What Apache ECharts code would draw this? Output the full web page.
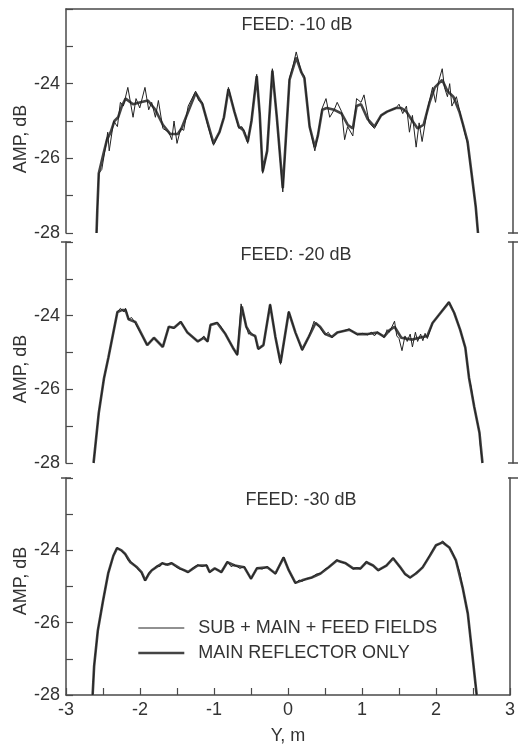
<!DOCTYPE html>
<html>
<head>
<meta charset="utf-8">
<script src="https://cdn.jsdelivr.net/npm/echarts@6/dist/echarts.min.js"></script>
<style>
  html, body { margin: 0; padding: 0; background: #fff; }
  #chart { width: 518px; height: 747px; }
</style>
</head>
<body>
<div id="chart"></div>
<script>
// Panel labels
const panelTitles = ['FEED: -10 dB', 'FEED: -20 dB', 'FEED: -30 dB'];
const legendNames = ['SUB + MAIN + FEED FIELDS', 'MAIN REFLECTOR ONLY'];

// [Y (m), amplitude (dB)]
const feed10Full = [
  [-2.59, -28], [-2.58, -27.4], [-2.56, -26.4], [-2.52, -26.3], [-2.47, -25.7], [-2.44, -25.3], [-2.42, -25.8],
  [-2.36, -25.0], [-2.31, -25.15], [-2.27, -24.5], [-2.23, -24.6], [-2.17, -24.1], [-2.1, -24.9], [-2.06, -24.4],
  [-2.01, -24.65], [-1.94, -24.1], [-1.89, -24.7], [-1.85, -24.5], [-1.8, -24.9], [-1.76, -24.45], [-1.7, -25.2],
  [-1.62, -25.3], [-1.58, -25.5], [-1.55, -25.0], [-1.51, -25.6], [-1.46, -25.2], [-1.42, -25.25], [-1.36, -24.6],
  [-1.26, -24.2], [-1.22, -24.45], [-1.17, -24.5], [-1.1, -25.1], [-1.02, -25.65], [-0.94, -25.3], [-0.88, -24.9],
  [-0.82, -24.1], [-0.74, -24.75], [-0.68, -25.2], [-0.64, -25.15], [-0.6, -25.3], [-0.56, -25.6], [-0.51, -24.95],
  [-0.44, -23.75], [-0.40, -24.8], [-0.36, -26.4], [-0.30, -25.8], [-0.23, -23.6], [-0.17, -24.9], [-0.09, -26.9],
  [0.0, -23.85], [0.05, -23.5], [0.09, -23.15], [0.16, -23.7], [0.2, -23.8], [0.27, -25.15], [0.34, -25.8],
  [0.38, -25.4], [0.44, -24.65], [0.49, -24.4], [0.54, -24.9], [0.6, -24.7], [0.64, -24.5], [0.7, -24.75],
  [0.74, -25.5], [0.78, -25.15], [0.85, -25.4], [0.9, -24.4], [0.96, -24.5], [1.0, -24.3], [1.07, -25.05],
  [1.14, -25.2], [1.23, -24.85], [1.31, -24.75], [1.43, -24.65], [1.47, -24.55], [1.52, -24.8], [1.57, -24.6],
  [1.61, -25.3], [1.65, -24.85], [1.70, -25.7], [1.74, -25.05], [1.78, -25.55], [1.85, -24.7], [1.92, -24.1],
  [1.96, -24.5], [2.0, -23.95], [2.05, -23.6], [2.08, -24.1], [2.12, -24.35], [2.15, -24.0], [2.18, -24.6],
  [2.24, -24.35], [2.31, -24.95], [2.35, -25.3], [2.39, -25.6], [2.45, -26.5], [2.5, -27.3], [2.53, -28]
];
const feed10Main = [
  [-2.59, -28], [-2.58, -27.4], [-2.56, -26.4], [-2.5, -25.9], [-2.45, -25.5], [-2.4, -25.3], [-2.35, -25.0],
  [-2.3, -24.9], [-2.25, -24.6], [-2.2, -24.4], [-2.1, -24.55], [-2.0, -24.5], [-1.9, -24.45], [-1.8, -24.7],
  [-1.7, -25.1], [-1.6, -25.35], [-1.5, -25.35], [-1.45, -25.2], [-1.35, -24.7], [-1.26, -24.25], [-1.17, -24.55],
  [-1.02, -25.6], [-0.94, -25.3], [-0.88, -24.9], [-0.82, -24.15], [-0.74, -24.75], [-0.68, -25.15], [-0.62, -25.25],
  [-0.56, -25.55], [-0.51, -25.0], [-0.44, -23.8], [-0.40, -24.8], [-0.36, -26.35], [-0.30, -25.8], [-0.23, -23.65],
  [-0.17, -24.9], [-0.09, -26.8], [0.0, -23.9], [0.09, -23.3], [0.16, -23.7], [0.2, -23.85], [0.27, -25.15],
  [0.34, -25.7], [0.38, -25.4], [0.44, -24.7], [0.5, -24.65], [0.6, -24.7], [0.7, -24.8], [0.78, -25.1],
  [0.85, -25.2], [0.9, -24.6], [0.96, -24.55], [1.05, -24.95], [1.14, -25.15], [1.23, -24.85], [1.31, -24.75],
  [1.43, -24.65], [1.5, -24.65], [1.57, -24.75], [1.65, -25.0], [1.72, -25.2], [1.8, -25.1], [1.88, -24.5],
  [1.95, -24.1], [2.05, -23.9], [2.12, -24.2], [2.2, -24.35], [2.28, -24.75], [2.33, -25.1], [2.39, -25.55],
  [2.45, -26.5], [2.5, -27.3], [2.53, -28]
];

const feed20Full = [
  [-2.63, -28], [-2.56, -26.64], [-2.49, -25.7], [-2.43, -25.13], [-2.31, -23.9], [-2.27, -23.8], [-2.22, -23.9],
  [-2.2, -23.8], [-2.16, -24.1], [-2.12, -24.05], [-2.07, -24.2], [-1.91, -24.8], [-1.82, -24.6], [-1.70, -24.85],
  [-1.62, -24.3], [-1.55, -24.35], [-1.46, -24.15], [-1.37, -24.46], [-1.23, -24.7], [-1.19, -24.65], [-1.15, -24.55],
  [-1.1, -24.72], [-1.06, -24.25], [-0.97, -24.18], [-0.92, -24.3], [-0.86, -24.5], [-0.76, -24.87], [-0.70, -25.08],
  [-0.65, -23.68], [-0.58, -24.3], [-0.55, -24.5], [-0.52, -24.45], [-0.46, -24.58], [-0.42, -24.92], [-0.35, -24.8],
  [-0.26, -23.68], [-0.19, -24.57], [-0.12, -25.32], [-0.01, -23.88], [0.01, -23.85], [0.08, -24.46], [0.17, -24.95],
  [0.26, -24.57], [0.33, -24.15], [0.37, -24.25], [0.41, -24.32], [0.45, -24.45], [0.48, -24.52], [0.52, -24.45],
  [0.57, -24.6], [0.64, -24.46], [0.72, -24.42], [0.80, -24.36], [0.86, -24.45], [0.91, -24.52], [0.98, -24.48],
  [1.05, -24.52], [1.1, -24.45], [1.14, -24.55], [1.18, -24.44], [1.23, -24.52], [1.27, -24.6], [1.31, -24.38],
  [1.34, -24.45], [1.41, -24.15], [1.44, -24.55], [1.47, -24.62], [1.51, -24.95], [1.55, -24.55], [1.58, -24.7],
  [1.62, -24.5], [1.65, -24.85], [1.69, -24.45], [1.72, -24.7], [1.76, -24.5], [1.79, -24.68], [1.82, -24.48],
  [1.85, -24.62], [1.92, -24.2], [2.01, -23.97], [2.14, -23.62], [2.21, -23.92], [2.29, -24.38], [2.36, -24.87],
  [2.41, -25.69], [2.44, -25.95], [2.45, -26.1], [2.48, -26.48], [2.55, -27.18], [2.56, -27.5], [2.59, -28]
];
const feed20Main = [
  [-2.63, -28], [-2.56, -26.64], [-2.49, -25.7], [-2.43, -25.13], [-2.31, -23.9], [-2.25, -23.85], [-2.2, -23.85],
  [-2.16, -24.1], [-2.07, -24.17], [-1.91, -24.8], [-1.82, -24.6], [-1.70, -24.85], [-1.62, -24.3], [-1.55, -24.33],
  [-1.46, -24.17], [-1.37, -24.46], [-1.23, -24.7], [-1.15, -24.6], [-1.1, -24.7], [-1.06, -24.25], [-0.97, -24.2],
  [-0.86, -24.5], [-0.76, -24.87], [-0.70, -25.06], [-0.64, -23.75], [-0.58, -24.3], [-0.52, -24.5], [-0.46, -24.55],
  [-0.42, -24.9], [-0.35, -24.8], [-0.26, -23.7], [-0.19, -24.57], [-0.12, -25.28], [-0.01, -23.9], [0.01, -23.85],
  [0.08, -24.46], [0.17, -24.92], [0.26, -24.57], [0.35, -24.2], [0.41, -24.3], [0.48, -24.5], [0.57, -24.57],
  [0.64, -24.46], [0.80, -24.38], [0.91, -24.5], [1.05, -24.5], [1.18, -24.46], [1.27, -24.57], [1.34, -24.4],
  [1.41, -24.3], [1.5, -24.6], [1.65, -24.65], [1.74, -24.6], [1.85, -24.55], [1.92, -24.2], [2.01, -23.97],
  [2.14, -23.64], [2.21, -23.92], [2.29, -24.38], [2.36, -24.87], [2.41, -25.69], [2.48, -26.48], [2.55, -27.18],
  [2.59, -28]
];

const feed30Full = [
  [-2.64, -28], [-2.62, -27.2], [-2.57, -26.22], [-2.5, -25.4], [-2.43, -24.64], [-2.36, -24.15], [-2.31, -23.92],
  [-2.25, -24.02], [-2.2, -24.1], [-2.16, -24.28], [-2.13, -24.3], [-2.08, -24.4], [-2.04, -24.5], [-1.98, -24.62],
  [-1.93, -24.85], [-1.88, -24.62], [-1.84, -24.55], [-1.8, -24.5], [-1.77, -24.42], [-1.73, -24.45], [-1.70, -24.34],
  [-1.66, -24.4], [-1.63, -24.38], [-1.57, -24.34], [-1.52, -24.45], [-1.46, -24.52], [-1.4, -24.55], [-1.35, -24.62],
  [-1.28, -24.48], [-1.22, -24.4], [-1.16, -24.45], [-1.1, -24.4], [-1.06, -24.62], [-0.99, -24.5], [-0.94, -24.55],
  [-0.9, -24.62], [-0.82, -24.3], [-0.77, -24.45], [-0.72, -24.4], [-0.65, -24.5], [-0.59, -24.45], [-0.5, -24.8],
  [-0.42, -24.48], [-0.35, -24.52], [-0.28, -24.45], [-0.17, -24.66], [-0.06, -24.18], [0.01, -24.55], [0.1, -24.92],
  [0.15, -24.82], [0.19, -24.86], [0.25, -24.78], [0.32, -24.76], [0.38, -24.66], [0.44, -24.64], [0.5, -24.52],
  [0.55, -24.47], [0.61, -24.36], [0.66, -24.26], [0.72, -24.33], [0.78, -24.35], [0.84, -24.45], [0.88, -24.52],
  [0.93, -24.48], [0.98, -24.52], [1.06, -24.3], [1.1, -24.38], [1.15, -24.42], [1.22, -24.57], [1.28, -24.48],
  [1.33, -24.42], [1.42, -24.2], [1.51, -24.46], [1.58, -24.66], [1.65, -24.77], [1.73, -24.62], [1.78, -24.55],
  [1.82, -24.45], [1.87, -24.3], [1.92, -24.12], [1.96, -23.98], [2.0, -23.86], [2.05, -23.82], [2.09, -23.74],
  [2.13, -23.85], [2.18, -23.92], [2.22, -24.05], [2.27, -24.3], [2.32, -24.6], [2.36, -25.03], [2.43, -25.75],
  [2.49, -26.86], [2.55, -28]
];
const feed30Main = [
  [-2.64, -28], [-2.62, -27.2], [-2.57, -26.22], [-2.5, -25.4], [-2.43, -24.64], [-2.36, -24.15], [-2.31, -23.94],
  [-2.25, -24.0], [-2.2, -24.1], [-2.13, -24.33], [-2.04, -24.47], [-1.98, -24.6], [-1.93, -24.83], [-1.88, -24.65],
  [-1.84, -24.55], [-1.77, -24.45], [-1.70, -24.36], [-1.63, -24.4], [-1.57, -24.36], [-1.46, -24.5], [-1.35, -24.6],
  [-1.28, -24.5], [-1.22, -24.42], [-1.1, -24.42], [-1.06, -24.6], [-0.99, -24.5], [-0.9, -24.6], [-0.82, -24.33],
  [-0.72, -24.42], [-0.59, -24.47], [-0.5, -24.78], [-0.42, -24.5], [-0.28, -24.47], [-0.17, -24.64], [-0.06, -24.2],
  [0.01, -24.55], [0.1, -24.9], [0.19, -24.83], [0.32, -24.75], [0.44, -24.64], [0.55, -24.47], [0.66, -24.28],
  [0.78, -24.36], [0.88, -24.5], [0.98, -24.5], [1.06, -24.33], [1.15, -24.42], [1.22, -24.55], [1.33, -24.42],
  [1.42, -24.22], [1.51, -24.45], [1.58, -24.65], [1.65, -24.75], [1.73, -24.64], [1.82, -24.47], [1.92, -24.14],
  [2.0, -23.86], [2.09, -23.78], [2.18, -23.92], [2.27, -24.28], [2.36, -25.03], [2.43, -25.75], [2.49, -26.86],
  [2.55, -28]
];

const fullData = [feed10Full, feed20Full, feed30Full];
const mainData = [feed10Main, feed20Main, feed30Main];

const FONT = '"Liberation Sans", Arial, Helvetica, sans-serif';
const INK = '#333';
const AXIS = '#4a4a4a';
const THIN_W = 1;
const THICK_W = 2.6;

const grids = [
  {left: 66, right: 5, top: 9, height: 224},
  {left: 66, right: 5, top: 242, height: 221},
  {left: 66, right: 5, top: 478, height: 217}
];

const chart = echarts.init(document.getElementById('chart'));

const xAxes = grids.map((g, i) => {
  const last = i === grids.length - 1;
  return {
    gridIndex: i,
    type: 'value',
    min: -3,
    max: 3,
    interval: 0.5,
    position: i === 0 ? 'top' : 'bottom',
    show: last || i === 0,
    name: last ? 'Y, m' : '',
    nameLocation: 'middle',
    nameGap: 32,
    nameTextStyle: {fontFamily: FONT, fontSize: 18, color: INK},
    axisLine: {show: true, onZero: false, lineStyle: {color: AXIS, width: 1.5}},
    axisTick: {show: last, inside: true, length: 7, lineStyle: {color: AXIS, width: 1.2}},
    axisLabel: {
      show: last,
      margin: 6,
      fontFamily: FONT,
      fontSize: 18,
      color: INK,
      formatter: v => (Number.isInteger(v) ? String(v) : '')
    },
    splitLine: {show: false}
  };
});

const yAxes = [];
grids.forEach((g, i) => {
  yAxes.push({
    gridIndex: i,
    type: 'value',
    min: -28,
    max: -22,
    interval: 1,
    position: 'left',
    axisLine: {show: true, onZero: false, lineStyle: {color: AXIS, width: 1.5}},
    axisTick: {show: true, inside: true, length: 7, lineStyle: {color: AXIS, width: 1.2}},
    axisLabel: {
      margin: 6,
      fontFamily: FONT,
      fontSize: 18,
      color: INK,
      formatter: v => (v % 2 === 0 && v !== -22 ? String(v) : '')
    },
    splitLine: {show: false}
  });
  // right-hand frame line
  yAxes.push({
    gridIndex: i,
    type: 'value',
    min: -28,
    max: -22,
    position: 'right',
    axisLine: {show: true, onZero: false, lineStyle: {color: AXIS, width: 1.5}},
    axisTick: {show: false},
    axisLabel: {show: false},
    splitLine: {show: false}
  });
});

const series = [];
grids.forEach((g, i) => {
  series.push({
    name: legendNames[1],
    type: 'line',
    xAxisIndex: i,
    yAxisIndex: i * 2,
    data: mainData[i],
    showSymbol: false,
    symbol: 'none',
    color: '#444',
    lineStyle: {color: '#444', width: THICK_W},
    z: 2,
    silent: true
  });
  series.push({
    name: legendNames[0],
    type: 'line',
    xAxisIndex: i,
    yAxisIndex: i * 2,
    data: fullData[i],
    showSymbol: false,
    symbol: 'none',
    color: '#222',
    lineStyle: {color: '#222', width: THIN_W},
    z: 3,
    silent: true
  });
});

// decorations: panel titles, y axis names, axis break caps
const graphics = [];
const titlePos = [[297, 25], [296, 255], [301, 500]];
const namePos = [[21, 139], [21, 369], [21, 581]];
panelTitles.forEach((t, i) => {
  graphics.push({
    type: 'text',
    x: titlePos[i][0],
    y: titlePos[i][1],
    style: {text: t, font: '18px ' + FONT, fill: INK, textAlign: 'center', textVerticalAlign: 'middle'}
  });
  graphics.push({
    type: 'text',
    x: namePos[i][0],
    y: namePos[i][1],
    rotation: Math.PI / 2,
    style: {text: 'AMP, dB', font: '18px ' + FONT, fill: INK, textAlign: 'center', textVerticalAlign: 'middle'}
  });
});
const caps = [
  [61, 71, 242], [61, 71, 478],
  [508, 518, 233], [508, 518, 242], [508, 518, 463], [508, 518, 478]
];
caps.forEach(c => {
  graphics.push({
    type: 'line',
    shape: {x1: c[0], y1: c[2], x2: c[1], y2: c[2]},
    style: {stroke: AXIS, lineWidth: 1.5}
  });
});

const option = {
  backgroundColor: '#fff',
  animation: false,
  grid: grids,
  xAxis: xAxes,
  yAxis: yAxes,
  legend: {
    data: [
      {name: legendNames[0], lineStyle: {width: THIN_W, color: '#222'}},
      {name: legendNames[1], lineStyle: {width: THICK_W, color: '#444'}}
    ],
    orient: 'vertical',
    left: 137,
    top: 619,
    padding: 0,
    itemWidth: 46,
    itemHeight: 18,
    itemGap: 7,
    selectedMode: false,
    itemStyle: {opacity: 0},
    textStyle: {fontFamily: FONT, fontSize: 18, color: INK, padding: [0, 0, 0, 9]}
  },
  graphic: graphics,
  series: series
};

chart.setOption(option);
</script>
</body>
</html>
